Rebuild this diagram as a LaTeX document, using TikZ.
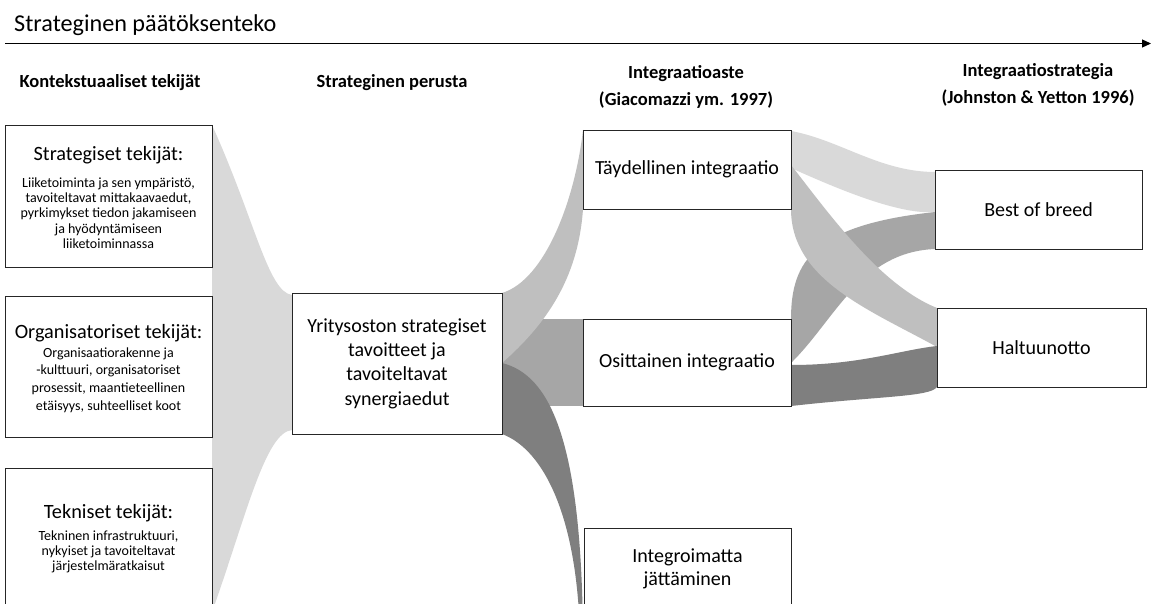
\documentclass[tikz,border=0pt]{standalone}
\usepackage{fontspec}
\setmainfont{Carlito}
\usetikzlibrary{arrows.meta}
\definecolor{gA}{HTML}{D9D9D9}
\definecolor{gB}{HTML}{BFBFBF}
\definecolor{gC}{HTML}{A6A6A6}
\definecolor{gD}{HTML}{7F7F7F}
\tikzset{
  box/.style={draw=black!85, line width=0.9pt, fill=white, inner sep=0pt},
  hdr/.style={font=\fontsize{18.5}{27}\selectfont\bfseries, align=center, inner sep=0pt},
  ttl/.style={font=\fontsize{20.3}{24}\selectfont, align=center, inner sep=0pt},
  body/.style={font=\fontsize{14}{15.3}\selectfont, align=center, inner sep=0pt},
  big/.style={font=\fontsize{20}{24.3}\selectfont, align=center},
}
\begin{document}
\begin{tikzpicture}[x=1pt,y=-1pt]
\useasboundingbox (0,0) rectangle (1155,604);
\clip (0,0) rectangle (1155,604);
\fill[white] (0,0) rectangle (1155,604);

% title and arrow
\node[anchor=base west, font=\fontsize{24.2}{28}\selectfont, inner sep=0pt] (title) at (14,32) {Strateginen päätöksenteko};
\coordinate (a0) at (5,43.5);
\coordinate (a1) at (1151,43.5);
\draw[line width=1.2pt, -{Triangle[length=9pt,width=8pt]}] (a0) -- (a1);

% headers
\node[hdr] (h1) at (110,83) {Kontekstuaaliset tekijät};
\node[hdr] (h2) at (392,83) {Strateginen perusta};
\node[hdr] (h3) at (686,87) {Integraatioaste\\(Giacomazzi ym. 1997)};
\node[hdr] (h4) at (1038,85) {Integraatiostrategia\\(Johnston \& Yetton 1996)};

% flows left
\fill[gA] (212,125) .. controls (255,220) and (268,292) .. (292,295) -- (292,430) .. controls (265,432) and (245,520) .. (212,612) -- cycle;
% flows middle
\fill[gC] (502,319) rectangle (583,406);
\fill[gB] (502,293) .. controls (545,280) and (575,200) .. (583,130) -- (583,209) .. controls (578,280) and (545,325) .. (502,363) -- cycle;
\fill[gD] (502,363) .. controls (550,375) and (582,440) .. (583,640) -- (580,640) .. controls (578,520) and (545,450) .. (502,434) -- cycle;
% flows right
\fill[gA] (791,131) .. controls (840,140) and (880,172) .. (935,172) -- (935,212) .. controls (900,215) and (840,190) .. (791,168) -- cycle;
\fill[gC] (791,319) .. controls (791,260) and (815,225) .. (935,212) -- (935,249) .. controls (860,252) and (835,320) .. (791,363) -- cycle;
\fill[gB] (791,165) .. controls (830,215) and (880,285) .. (937,308) -- (937,347) .. controls (870,310) and (791,280) .. (791,209) -- cycle;
\fill[gD] (791,365) .. controls (860,365) and (900,350) .. (937,346) -- (937,387) .. controls (930,397) and (880,396) .. (791,406) -- cycle;

% left boxes
\node[box, minimum width=207pt, minimum height=142pt] (k1) at (108.5,196) {};
\node[ttl] (k1t) at (108.5,155) {Strategiset tekijät:};
\node[body] (k1b) at (108.5,213) {Liiketoiminta ja sen ympäristö,\\tavoiteltavat mittakaavaedut,\\pyrkimykset tiedon jakamiseen\\ja hyödyntämiseen\\liiketoiminnassa};

\node[box, minimum width=207pt, minimum height=141pt] (k2) at (108.5,366.5) {};
\node[ttl] (k2t) at (108.5,333) {Organisatoriset tekijät:};
\node[body, font=\fontsize{14}{17.6}\selectfont] (k2b) at (108.5,380) {Organisaatiorakenne ja\\-kulttuuri, organisatoriset\\prosessit, maantieteellinen\\etäisyys, suhteelliset koot};

\node[box, minimum width=207pt, minimum height=152pt] (k3) at (108.5,544) {};
\node[ttl] (k3t) at (108.5,513) {Tekniset tekijät:};
\node[body, font=\fontsize{14}{15}\selectfont] (k3b) at (108.5,552) {Tekninen infrastruktuuri,\\nykyiset ja tavoiteltavat\\järjestelmäratkaisut};

% middle
\node[box, big, minimum width=210pt, minimum height=141pt] (mid) at (397,363.5) {Yritysoston strategiset\\tavoitteet ja\\tavoiteltavat\\synergiaedut};

% integration degree
\node[box, big, minimum width=208pt, minimum height=79pt] (tay) at (687,169.5) {Täydellinen integraatio};
\node[box, big, minimum width=208pt, minimum height=87pt] (osi) at (687,362.5) {Osittainen integraatio};
\node[box, big, font=\fontsize{20}{23}\selectfont, minimum width=207pt, minimum height=81pt] (int) at (687.5,568.5) {Integroimatta\\jättäminen};

% strategy
\node[box, big, minimum width=207pt, minimum height=79pt] (bob) at (1038.5,209.5) {Best of breed};
\node[box, big, minimum width=209pt, minimum height=79pt] (hal) at (1041.5,347.5) {Haltuunotto};
\end{tikzpicture}
\end{document}
